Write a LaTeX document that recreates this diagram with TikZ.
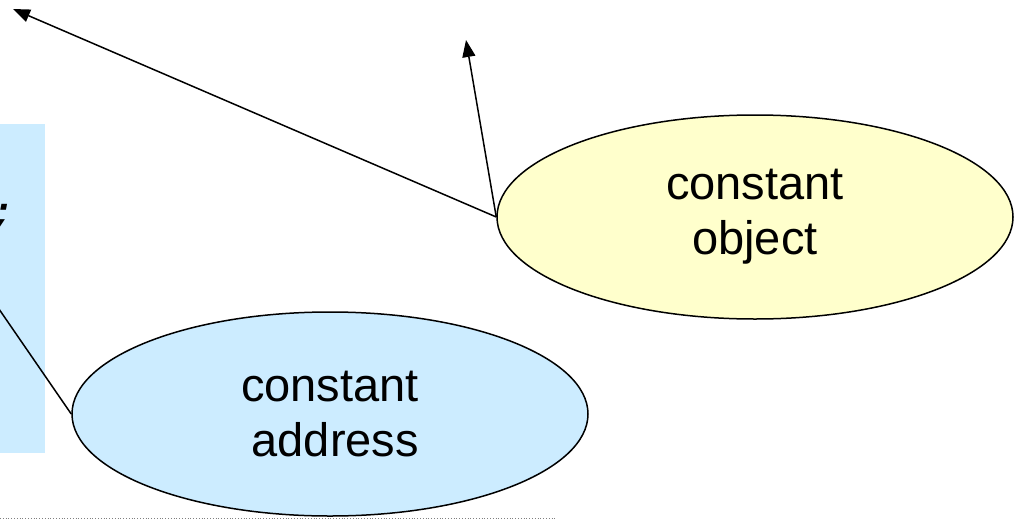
\documentclass[tikz,border=0pt]{standalone}
\usepackage{fontspec}
\setmainfont{Liberation Sans}
\setmonofont{Liberation Mono}
\usepackage{tikz}
\usetikzlibrary{arrows.meta}
\usetikzlibrary{shapes.geometric}

\definecolor{notebg}{HTML}{CCECFF}
\definecolor{objfill}{HTML}{FFFFCC}

\tikzset{
  constell/.style={ellipse, draw, line width=1.5pt, minimum width=516pt, minimum height=204pt,
    inner sep=0pt, font=\fontsize{47}{55}\selectfont},
  ptrarrow/.style={-{Triangle[length=17pt,width=13pt]}, line width=1.5pt}
}

\begin{document}
\begin{tikzpicture}[x=1pt,y=-1pt]
        \newcommand{\figconstwidth}{1019}
        \newcommand{\figconstheight}{519}
        \newcommand{\figconstboxright}{45}
        \newcommand{\figconstboxtop}{124}
        \newcommand{\figconstboxbottom}{453}
        \newcommand{\figconstaddrx}{330}
        \newcommand{\figconstaddry}{414}
        \newcommand{\figconstobjx}{755}
        \newcommand{\figconstobjy}{217}
        \newcommand{\figconstruley}{518}
        \newcommand{\figconstruleend}{555}
        \useasboundingbox (0,0) rectangle (\figconstwidth,\figconstheight);
        \fill[notebg] (0,\figconstboxtop) rectangle (\figconstboxright,\figconstboxbottom);
        \node[anchor=base, inner sep=0pt, font=\ttfamily\bfseries\itshape\fontsize{40}{40}\selectfont] (codesemi) at (3,225) {;};
        \draw[gray, dotted, line width=0.8pt] (0,\figconstruley) -- (\figconstruleend,\figconstruley);
        \node[constell, fill=notebg, align=right] (constaddr) at (\figconstaddrx,\figconstaddry) {constant\\address};
        \node[constell, fill=objfill, align=center] (constobj) at (\figconstobjx,\figconstobjy) {constant\\object};
        \coordinate (ptrsrc) at (-10,296);
        \coordinate (objtipa) at (13,9);
        \coordinate (objtipb) at (466,40);
        \draw[line width=1.5pt] (ptrsrc) -- (constaddr.west);
        \draw[ptrarrow] (constobj.west) -- (objtipa);
        \draw[ptrarrow] (constobj.west) -- (objtipb);
    \end{tikzpicture}
\end{document}
